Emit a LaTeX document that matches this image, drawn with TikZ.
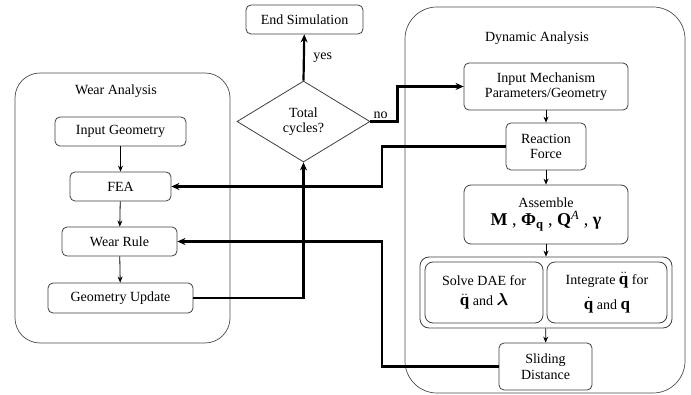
\documentclass[tikz,border=0pt]{standalone}
\usepackage{amsmath,bm}
\usepackage{fontspec}
\setmainfont{Liberation Serif}
\usetikzlibrary{arrows.meta,positioning,shapes.geometric}

\newcommand{\bigq}[1]{{\fontsize{17}{19}\selectfont$#1$}}

\begin{document}
\begin{tikzpicture}[x=1pt,y=-1pt,
  font=\fontsize{14}{15.5}\selectfont,
  box/.style={draw=black!75,line width=0.8pt,rounded corners=5pt,fill=white,align=center,inner sep=1pt},
  group/.style={draw=black!70,line width=0.7pt,rounded corners=28pt},
  flow/.style={-{Stealth[length=6pt,width=5pt]},line width=0.8pt},
  link/.style={-{Stealth[length=8pt,width=7pt]},line width=2.2pt}]
  \useasboundingbox (0,0) rectangle (691,395);

  % the two analysis blocks
  \node[group,minimum width=215pt,minimum height=270pt,rounded corners=25pt] (wear) at (122.5,208) {};
  \node (weart) at (116,91) {Wear Analysis};
  \node[group,minimum width=280pt,minimum height=386pt,rounded corners=32pt] (dyn) at (545,200) {};
  \node (dynt) at (537,38) {Dynamic Analysis};

  % wear analysis
  \node[box,minimum width=131pt,minimum height=29pt] (ingeo) at (120.5,131.5) {Input Geometry};
  \node[box,minimum width=101pt,minimum height=29pt] (fea) at (120.5,186.5) {FEA};
  \node[box,minimum width=115pt,minimum height=29pt] (wrule) at (119.5,241.5) {Wear Rule};
  \node[box,minimum width=145pt,minimum height=30pt] (geoup) at (120.5,298) {Geometry Update};

  % loop control
  \node[box,minimum width=117pt,minimum height=29pt] (endsim) at (304.5,19.5) {End Simulation};
  \node[diamond,draw=black!75,line width=0.8pt,fill=white,align=center,inner sep=0pt,
    minimum width=133pt,minimum height=81pt] (cyc) at (303.5,121.5) {Total\\cycles?};

  % dynamic analysis
  \node[box,minimum width=164pt,minimum height=47pt] (inmech) at (546,86.5) {Input Mechanism\\Parameters/Geometry};
  \node[box,minimum width=80pt,minimum height=47pt] (react) at (546,146.5) {Reaction\\Force};
  \node[box,minimum width=164pt,minimum height=59pt,rounded corners=7pt] (asm) at (546,214.5)
    {Assemble\\[2pt]{\fontsize{18}{20}\selectfont\textbf{M} , \textbf{Φ}\textsubscript{\textbf{q}} , \textbf{Q}\textsuperscript{\textit{A}} , \textbf{γ}}};
  \node[box,minimum width=252pt,minimum height=71pt,rounded corners=9pt] (solver) at (546,292.5) {};
  \node[box,minimum width=118pt,minimum height=61pt,rounded corners=8pt] (dae) at (484,292.5)
    {Solve DAE for\\[5pt]\bigq{\ddot{\mathbf{q}}} and \bigq{\bm{\lambda}}};
  \node[box,minimum width=120pt,minimum height=61pt,rounded corners=8pt] (integ) at (607,292.5)
    {Integrate \bigq{\ddot{\mathbf{q}}} for\\[8pt]\bigq{\dot{\mathbf{q}}} and \bigq{\mathbf{q}}};
  \node[box,minimum width=93pt,minimum height=47pt] (slide) at (545.5,366.5) {Sliding\\Distance};

  \coordinate (back) at (382,0);

  \draw[flow] (ingeo) -- (fea);
  \draw[flow] (fea) -- (wrule);
  \draw[flow] (wrule) -- (geoup);
  \draw[flow] (inmech) -- (react);
  \draw[flow] (react) -- (asm);
  \draw[flow] (asm) -- (solver);
  \draw[flow] (solver) -- (slide);

  \draw[link] (cyc.north) -- (endsim) node[midway,right,xshift=5pt]{yes};
  \draw[link] (cyc.east) node[anchor=south west,inner sep=2pt]{no} -- ++(27,0) |- (inmech.west);
  \draw[link] (react.west) -| (back |- fea.east) -- (fea.east);
  \draw[link] (slide.west) -| (back |- wrule.east) -- (wrule.east);
  \draw[link] (geoup.east) -| (cyc.south);
\end{tikzpicture}
\end{document}
